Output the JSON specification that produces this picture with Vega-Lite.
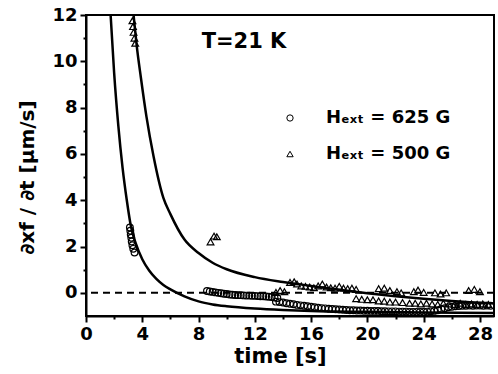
{
  "$schema": "https://vega.github.io/schema/vega-lite/v6.json",
  "width": 408,
  "height": 301,
  "autosize": {"type": "none"},
  "padding": {"left": 86, "top": 15, "right": 4, "bottom": 58},
  "background": "white",
  "config": {
    "view": {"stroke": "black", "strokeWidth": 2},
    "font": "DejaVu Sans",
    "axis": {
      "domainColor": "black", "domainWidth": 2, "tickColor": "black", "tickWidth": 2,
      "labelColor": "black", "labelFontSize": 18, "labelFontWeight": "bold", "labelFont": "DejaVu Sans",
      "titleColor": "black", "titleFont": "DejaVu Sans", "titleFontWeight": "bold", "grid": false
    }
  },
  "datasets": {
    "curves": [
      {"c": "A", "t": 1.75, "v": 12}, {"c": "A", "t": 2.0, "v": 9.5}, {"c": "A", "t": 2.3, "v": 7.2}, {"c": "A", "t": 2.6, "v": 5.4},
      {"c": "A", "t": 2.9, "v": 4.0}, {"c": "A", "t": 3.2, "v": 2.85}, {"c": "A", "t": 3.5, "v": 2.2}, {"c": "A", "t": 4.0, "v": 1.45},
      {"c": "A", "t": 4.5, "v": 0.95}, {"c": "A", "t": 5.0, "v": 0.6}, {"c": "A", "t": 5.5, "v": 0.34}, {"c": "A", "t": 6.0, "v": 0.15},
      {"c": "A", "t": 7.0, "v": -0.15}, {"c": "A", "t": 8.0, "v": -0.37}, {"c": "A", "t": 9.0, "v": -0.5}, {"c": "A", "t": 10, "v": -0.58},
      {"c": "A", "t": 12, "v": -0.68}, {"c": "A", "t": 14, "v": -0.74}, {"c": "A", "t": 16, "v": -0.78}, {"c": "A", "t": 20, "v": -0.82},
      {"c": "A", "t": 24, "v": -0.85}, {"c": "A", "t": 29, "v": -0.87},
      {"c": "B", "t": 3.38, "v": 12}, {"c": "B", "t": 3.6, "v": 10.7}, {"c": "B", "t": 3.9, "v": 9.3}, {"c": "B", "t": 4.3, "v": 7.6},
      {"c": "B", "t": 4.8, "v": 5.9}, {"c": "B", "t": 5.5, "v": 4.1}, {"c": "B", "t": 6.0, "v": 3.4}, {"c": "B", "t": 7.0, "v": 2.3},
      {"c": "B", "t": 8, "v": 1.72}, {"c": "B", "t": 9, "v": 1.3}, {"c": "B", "t": 10, "v": 1.02}, {"c": "B", "t": 12, "v": 0.68},
      {"c": "B", "t": 14, "v": 0.47}, {"c": "B", "t": 16, "v": 0.3}, {"c": "B", "t": 18, "v": 0.13}, {"c": "B", "t": 20, "v": -0.02},
      {"c": "B", "t": 22, "v": -0.15}, {"c": "B", "t": 24, "v": -0.26}, {"c": "B", "t": 26, "v": -0.35}, {"c": "B", "t": 28, "v": -0.43},
      {"c": "B", "t": 29, "v": -0.46}
    ],
    "points": [
      {"s": "625 G", "t": 3.12, "v": 2.82}, {"s": "625 G", "t": 3.15, "v": 2.68}, {"s": "625 G", "t": 3.18, "v": 2.52}, {"s": "625 G", "t": 3.22, "v": 2.38},
      {"s": "625 G", "t": 3.25, "v": 2.22}, {"s": "625 G", "t": 3.3, "v": 2.06}, {"s": "625 G", "t": 3.36, "v": 1.9}, {"s": "625 G", "t": 3.45, "v": 1.74},
      {"s": "625 G", "t": 8.6, "v": 0.08}, {"s": "625 G", "t": 8.8, "v": 0.06}, {"s": "625 G", "t": 9.0, "v": 0.04}, {"s": "625 G", "t": 9.2, "v": 0.02},
      {"s": "625 G", "t": 9.4, "v": 0.0}, {"s": "625 G", "t": 9.6, "v": -0.02}, {"s": "625 G", "t": 9.8, "v": -0.04}, {"s": "625 G", "t": 10.0, "v": -0.05},
      {"s": "625 G", "t": 10.2, "v": -0.07}, {"s": "625 G", "t": 10.4, "v": -0.08}, {"s": "625 G", "t": 10.6, "v": -0.09}, {"s": "625 G", "t": 10.8, "v": -0.1},
      {"s": "625 G", "t": 11.0, "v": -0.1}, {"s": "625 G", "t": 11.2, "v": -0.11}, {"s": "625 G", "t": 11.4, "v": -0.12}, {"s": "625 G", "t": 11.6, "v": -0.12},
      {"s": "625 G", "t": 11.8, "v": -0.13}, {"s": "625 G", "t": 12.0, "v": -0.13}, {"s": "625 G", "t": 12.2, "v": -0.14}, {"s": "625 G", "t": 12.4, "v": -0.15},
      {"s": "625 G", "t": 12.6, "v": -0.15}, {"s": "625 G", "t": 12.8, "v": -0.16}, {"s": "625 G", "t": 13.0, "v": -0.17}, {"s": "625 G", "t": 13.2, "v": -0.18},
      {"s": "625 G", "t": 13.4, "v": -0.2}, {"s": "625 G", "t": 13.6, "v": -0.22},
      {"s": "625 G", "t": 13.5, "v": -0.38}, {"s": "625 G", "t": 13.75, "v": -0.4}, {"s": "625 G", "t": 14.0, "v": -0.42}, {"s": "625 G", "t": 14.25, "v": -0.45},
      {"s": "625 G", "t": 14.5, "v": -0.47}, {"s": "625 G", "t": 14.75, "v": -0.49}, {"s": "625 G", "t": 15.0, "v": -0.52}, {"s": "625 G", "t": 15.25, "v": -0.54},
      {"s": "625 G", "t": 15.5, "v": -0.56}, {"s": "625 G", "t": 15.75, "v": -0.58}, {"s": "625 G", "t": 16.0, "v": -0.6}, {"s": "625 G", "t": 16.25, "v": -0.62},
      {"s": "625 G", "t": 16.5, "v": -0.64}, {"s": "625 G", "t": 16.75, "v": -0.66}, {"s": "625 G", "t": 17.0, "v": -0.67}, {"s": "625 G", "t": 17.25, "v": -0.69},
      {"s": "625 G", "t": 17.5, "v": -0.7}, {"s": "625 G", "t": 17.75, "v": -0.71}, {"s": "625 G", "t": 18.0, "v": -0.72}, {"s": "625 G", "t": 18.25, "v": -0.73},
      {"s": "625 G", "t": 18.5, "v": -0.74}, {"s": "625 G", "t": 18.75, "v": -0.75}, {"s": "625 G", "t": 19.0, "v": -0.75}, {"s": "625 G", "t": 19.25, "v": -0.76},
      {"s": "625 G", "t": 19.5, "v": -0.76}, {"s": "625 G", "t": 19.75, "v": -0.77}, {"s": "625 G", "t": 20.0, "v": -0.77}, {"s": "625 G", "t": 20.25, "v": -0.78},
      {"s": "625 G", "t": 20.5, "v": -0.78}, {"s": "625 G", "t": 20.75, "v": -0.78}, {"s": "625 G", "t": 21.0, "v": -0.79}, {"s": "625 G", "t": 21.25, "v": -0.79},
      {"s": "625 G", "t": 21.5, "v": -0.8}, {"s": "625 G", "t": 21.75, "v": -0.8}, {"s": "625 G", "t": 22.0, "v": -0.8}, {"s": "625 G", "t": 22.25, "v": -0.81},
      {"s": "625 G", "t": 22.5, "v": -0.81}, {"s": "625 G", "t": 22.75, "v": -0.81}, {"s": "625 G", "t": 23.0, "v": -0.82}, {"s": "625 G", "t": 23.25, "v": -0.82},
      {"s": "625 G", "t": 23.5, "v": -0.82}, {"s": "625 G", "t": 23.75, "v": -0.82}, {"s": "625 G", "t": 24.0, "v": -0.82}, {"s": "625 G", "t": 24.25, "v": -0.81},
      {"s": "625 G", "t": 24.5, "v": -0.8}, {"s": "625 G", "t": 24.75, "v": -0.78}, {"s": "625 G", "t": 25.0, "v": -0.75}, {"s": "625 G", "t": 25.25, "v": -0.7},
      {"s": "625 G", "t": 25.5, "v": -0.66}, {"s": "625 G", "t": 25.75, "v": -0.62}, {"s": "625 G", "t": 26.0, "v": -0.6}, {"s": "625 G", "t": 26.25, "v": -0.58},
      {"s": "625 G", "t": 26.5, "v": -0.57}, {"s": "625 G", "t": 26.75, "v": -0.56}, {"s": "625 G", "t": 27.0, "v": -0.56}, {"s": "625 G", "t": 27.25, "v": -0.55},
      {"s": "625 G", "t": 27.5, "v": -0.56}, {"s": "625 G", "t": 27.75, "v": -0.55}, {"s": "625 G", "t": 28.0, "v": -0.55}, {"s": "625 G", "t": 28.25, "v": -0.56},
      {"s": "625 G", "t": 28.5, "v": -0.55}, {"s": "625 G", "t": 28.75, "v": -0.56},
      {"s": "500 G", "t": 3.3, "v": 11.75}, {"s": "500 G", "t": 3.34, "v": 11.5}, {"s": "500 G", "t": 3.38, "v": 11.25}, {"s": "500 G", "t": 3.44, "v": 11.0},
      {"s": "500 G", "t": 3.5, "v": 10.78},
      {"s": "500 G", "t": 8.85, "v": 2.2}, {"s": "500 G", "t": 9.1, "v": 2.45}, {"s": "500 G", "t": 9.3, "v": 2.42},
      {"s": "500 G", "t": 13.5, "v": 0.02}, {"s": "500 G", "t": 13.8, "v": 0.1}, {"s": "500 G", "t": 14.1, "v": 0.05},
      {"s": "500 G", "t": 14.5, "v": 0.45}, {"s": "500 G", "t": 14.8, "v": 0.48}, {"s": "500 G", "t": 15.0, "v": 0.38}, {"s": "500 G", "t": 15.3, "v": 0.3},
      {"s": "500 G", "t": 15.6, "v": 0.28}, {"s": "500 G", "t": 15.9, "v": 0.25}, {"s": "500 G", "t": 16.2, "v": 0.22}, {"s": "500 G", "t": 16.5, "v": 0.3},
      {"s": "500 G", "t": 16.8, "v": 0.38}, {"s": "500 G", "t": 17.1, "v": 0.25}, {"s": "500 G", "t": 17.4, "v": 0.22}, {"s": "500 G", "t": 17.7, "v": 0.2},
      {"s": "500 G", "t": 18.0, "v": 0.28}, {"s": "500 G", "t": 18.3, "v": 0.2}, {"s": "500 G", "t": 18.6, "v": 0.18}, {"s": "500 G", "t": 18.9, "v": 0.2},
      {"s": "500 G", "t": 19.2, "v": 0.15},
      {"s": "500 G", "t": 19.2, "v": -0.25}, {"s": "500 G", "t": 19.6, "v": -0.28}, {"s": "500 G", "t": 20.0, "v": -0.3}, {"s": "500 G", "t": 20.4, "v": -0.3},
      {"s": "500 G", "t": 20.8, "v": 0.18}, {"s": "500 G", "t": 21.2, "v": 0.2}, {"s": "500 G", "t": 21.6, "v": 0.1}, {"s": "500 G", "t": 22.1, "v": 0.05},
      {"s": "500 G", "t": 22.4, "v": 0.0}, {"s": "500 G", "t": 23.3, "v": 0.05}, {"s": "500 G", "t": 23.6, "v": 0.12}, {"s": "500 G", "t": 24.0, "v": 0.02},
      {"s": "500 G", "t": 24.8, "v": 0.0}, {"s": "500 G", "t": 25.2, "v": -0.05}, {"s": "500 G", "t": 25.6, "v": 0.0}, {"s": "500 G", "t": 27.2, "v": 0.1},
      {"s": "500 G", "t": 27.6, "v": 0.15}, {"s": "500 G", "t": 28.0, "v": 0.05},
      {"s": "500 G", "t": 20.8, "v": -0.35}, {"s": "500 G", "t": 21.2, "v": -0.36}, {"s": "500 G", "t": 21.6, "v": -0.4}, {"s": "500 G", "t": 22.0, "v": -0.4},
      {"s": "500 G", "t": 22.5, "v": -0.42}, {"s": "500 G", "t": 23.0, "v": -0.45}, {"s": "500 G", "t": 23.4, "v": -0.45}, {"s": "500 G", "t": 23.8, "v": -0.48},
      {"s": "500 G", "t": 24.2, "v": -0.45}, {"s": "500 G", "t": 24.6, "v": -0.48}, {"s": "500 G", "t": 25.0, "v": -0.5}, {"s": "500 G", "t": 25.4, "v": -0.45},
      {"s": "500 G", "t": 25.8, "v": -0.48}, {"s": "500 G", "t": 26.2, "v": -0.5}, {"s": "500 G", "t": 26.6, "v": -0.45}, {"s": "500 G", "t": 27.0, "v": -0.5},
      {"s": "500 G", "t": 27.4, "v": -0.48}, {"s": "500 G", "t": 27.8, "v": -0.5}, {"s": "500 G", "t": 28.2, "v": -0.48}, {"s": "500 G", "t": 28.6, "v": -0.5}
    ],
    "notes": [{"t": 11.23, "v": 10.85, "label": "T=21 K"}],
    "zero": [{"v": 0}]
  },
  "encoding": {
    "x": {
      "field": "t", "type": "quantitative",
      "scale": {"domain": [0, 29], "nice": false, "zero": false},
      "axis": {
        "title": "time [s]", "titleFontSize": 21, "titleX": 194, "titleY": 40, "titleBaseline": "middle",
        "values": [0, 2, 4, 6, 8, 10, 12, 14, 16, 18, 20, 22, 24, 26, 28],
        "labelExpr": "datum.value % 4 === 0 ? datum.label : ''",
        "tickSize": {"condition": {"test": "datum.value % 4 === 0", "value": 6}, "value": 3},
        "labelPadding": 3, "labelFlush": false, "labelOverlap": false
      }
    },
    "y": {
      "field": "v", "type": "quantitative",
      "scale": {"domain": [-1, 12], "nice": false, "zero": false},
      "axis": {
        "title": "∂xf / ∂t [µm/s]", "titleFontSize": 20, "titleX": -59, "titleY": 162,
        "titleAngle": -90, "titleAlign": "center", "titleBaseline": "middle",
        "values": [0, 1, 2, 3, 4, 5, 6, 7, 8, 9, 10, 11, 12],
        "labelExpr": "datum.value % 2 === 0 ? datum.label : ''",
        "tickSize": {"condition": {"test": "datum.value % 2 === 0", "value": 6}, "value": 3},
        "labelPadding": 3, "labelFlush": false, "labelOverlap": false
      }
    }
  },
  "layer": [
    {
      "data": {"name": "zero"},
      "mark": {"type": "rule", "strokeDash": [7, 5], "strokeWidth": 2, "color": "black"},
      "encoding": {"x": null, "y": {"field": "v", "type": "quantitative"}}
    },
    {
      "data": {"name": "curves"},
      "mark": {"type": "line", "color": "black", "strokeWidth": 2.5, "interpolate": "monotone", "clip": true},
      "encoding": {"detail": {"field": "c"}}
    },
    {
      "data": {"name": "points"},
      "mark": {"type": "point", "filled": false, "color": "black", "strokeWidth": 1.2, "size": 45, "opacity": 1},
      "encoding": {
        "shape": {
          "field": "s", "type": "nominal",
          "scale": {"domain": ["625 G", "500 G"], "range": ["circle", "triangle-up"]},
          "legend": {
            "orient": "none", "legendX": 195, "legendY": 94, "title": null,
            "labelExpr": "'Hₑₓₜ = ' + datum.label",
            "labelFontSize": 18, "labelFontWeight": "bold", "labelFont": "DejaVu Sans", "labelColor": "black",
            "symbolSize": 40, "symbolStrokeColor": "black", "symbolStrokeWidth": 1,
            "rowPadding": 18, "labelOffset": 27, "padding": 0
          }
        }
      }
    },
    {
      "data": {"name": "notes"},
      "mark": {"type": "text", "fontSize": 21, "fontWeight": "bold", "align": "center", "baseline": "middle", "color": "black"},
      "encoding": {"text": {"field": "label"}}
    }
  ]
}
